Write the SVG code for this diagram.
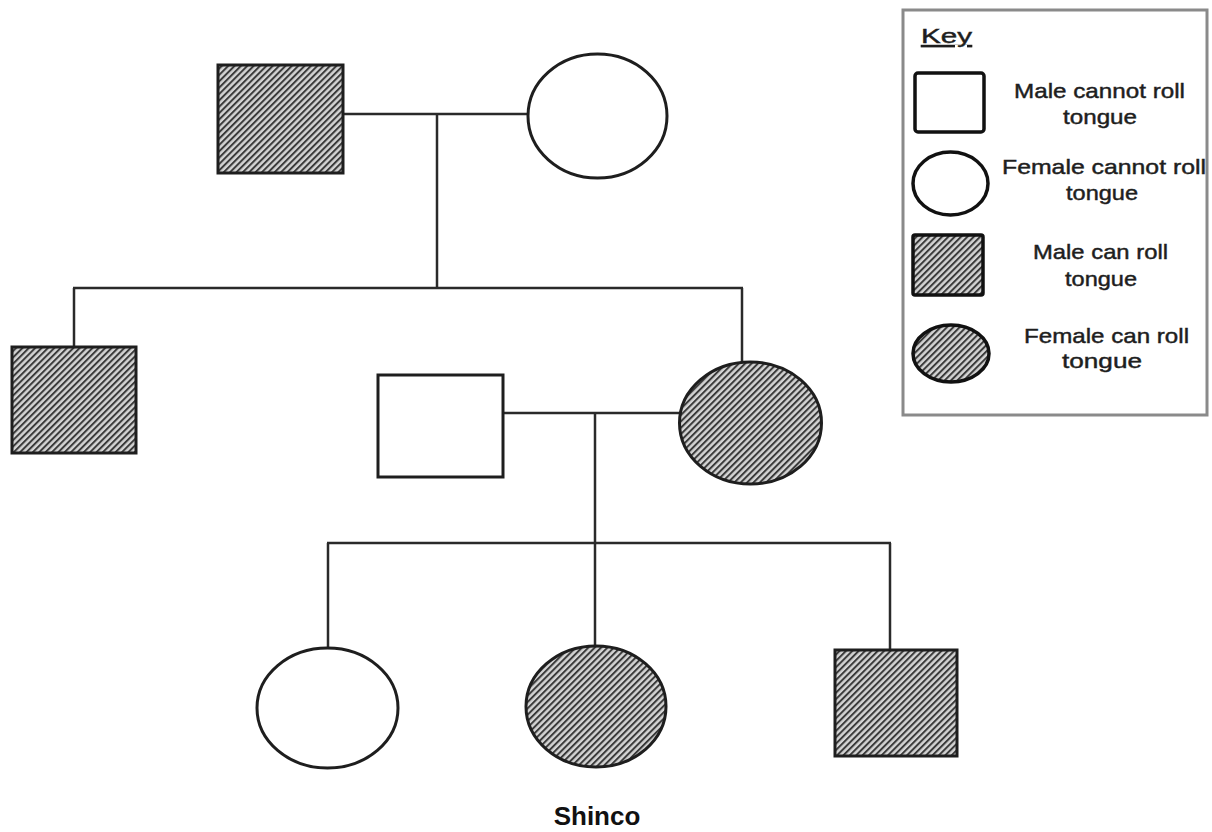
<svg xmlns="http://www.w3.org/2000/svg" width="1212" height="832" viewBox="0 0 1212 832">
<defs>
<pattern id="hatch" width="4.5" height="4.5" patternUnits="userSpaceOnUse" patternTransform="rotate(45)">
<rect width="4.5" height="4.5" fill="#d4d4d4"/>
<rect x="0" y="0" width="2" height="4.5" fill="#3a3a3a"/>
</pattern>
</defs>
<style>
.node{stroke:#1e1e1e;stroke-width:3;fill:#fff}
.kshape{stroke:#111;stroke-width:3.5;fill:#fff}
.node.aff,.kshape.aff{fill:url(#hatch)}
.conn line{stroke:#2a2a2a;stroke-width:2.5;fill:none}
.key{font-family:"Liberation Sans",Arial,sans-serif;font-size:21px;fill:#1e1e1e;stroke:#1e1e1e;stroke-width:0.45}
.lbl{font-family:"Liberation Sans",Arial,sans-serif;font-size:26px;font-weight:bold;fill:#111}
</style>
<rect width="1212" height="832" fill="#fff"/>

<g id="connectors" class="conn">
<line x1="343" y1="114" x2="528" y2="114"/>
<line x1="437" y1="114" x2="437" y2="288"/>
<line x1="73" y1="288" x2="743" y2="288"/>
<line x1="74" y1="288" x2="74" y2="347"/>
<line x1="742" y1="288" x2="742" y2="362"/>
<line x1="503" y1="413" x2="680" y2="413"/>
<line x1="595" y1="413" x2="595" y2="543"/>
<line x1="327" y1="543" x2="891" y2="543"/>
<line x1="328" y1="543" x2="328" y2="648"/>
<line x1="595" y1="543" x2="595" y2="646"/>
<line x1="890" y1="543" x2="890" y2="650"/>
</g>

<g id="g1-father"><rect class="node aff" x="218" y="65" width="125" height="108"/></g>
<g id="g1-mother"><ellipse class="node" cx="597.5" cy="116" rx="69.5" ry="62"/></g>
<g id="g2-son"><rect class="node aff" x="12" y="347" width="124" height="106"/></g>
<g id="g2-daughter"><ellipse class="node aff" cx="750.5" cy="423" rx="71" ry="61"/></g>
<g id="g2-spouse"><rect class="node" x="378" y="375" width="125" height="102"/></g>
<g id="g3-daughter"><ellipse class="node" cx="327.5" cy="708" rx="70.5" ry="60"/></g>
<g id="g3-shinco"><ellipse class="node aff" cx="596" cy="706.5" rx="70" ry="60.5"/>
<text class="lbl" x="597" y="825" text-anchor="middle">Shinco</text></g>
<g id="g3-son"><rect class="node aff" x="835" y="650" width="122" height="106"/></g>

<g id="key">
<rect x="903" y="10" width="304" height="405" fill="#fff" stroke="#8a8a8a" stroke-width="3"/>
<text class="key" x="921" y="43" font-size="23" textLength="51" lengthAdjust="spacingAndGlyphs" text-decoration="underline" fill="#444" stroke="#444" stroke-width="0.3">Key</text>
<rect class="kshape" x="915" y="73" width="69" height="59" rx="3"/>
<text class="key" x="1014" y="98" textLength="171" lengthAdjust="spacingAndGlyphs">Male cannot roll</text>
<text class="key" x="1063" y="124" textLength="74" lengthAdjust="spacingAndGlyphs">tongue</text>
<ellipse class="kshape" cx="950.5" cy="183.5" rx="37.5" ry="31.5"/>
<text class="key" x="1002" y="174" textLength="204" lengthAdjust="spacingAndGlyphs">Female cannot roll</text>
<text class="key" x="1066" y="200" textLength="72" lengthAdjust="spacingAndGlyphs">tongue</text>
<rect class="kshape aff" x="913" y="235" width="70" height="60" rx="2"/>
<text class="key" x="1033" y="259" textLength="135" lengthAdjust="spacingAndGlyphs">Male can roll</text>
<text class="key" x="1065" y="286" textLength="72" lengthAdjust="spacingAndGlyphs">tongue</text>
<ellipse class="kshape aff" cx="951" cy="353.5" rx="38" ry="28.5"/>
<text class="key" x="1024" y="343" textLength="165" lengthAdjust="spacingAndGlyphs">Female can roll</text>
<text class="key" x="1062" y="368" textLength="80" lengthAdjust="spacingAndGlyphs">tongue</text>
</g>
</svg>
